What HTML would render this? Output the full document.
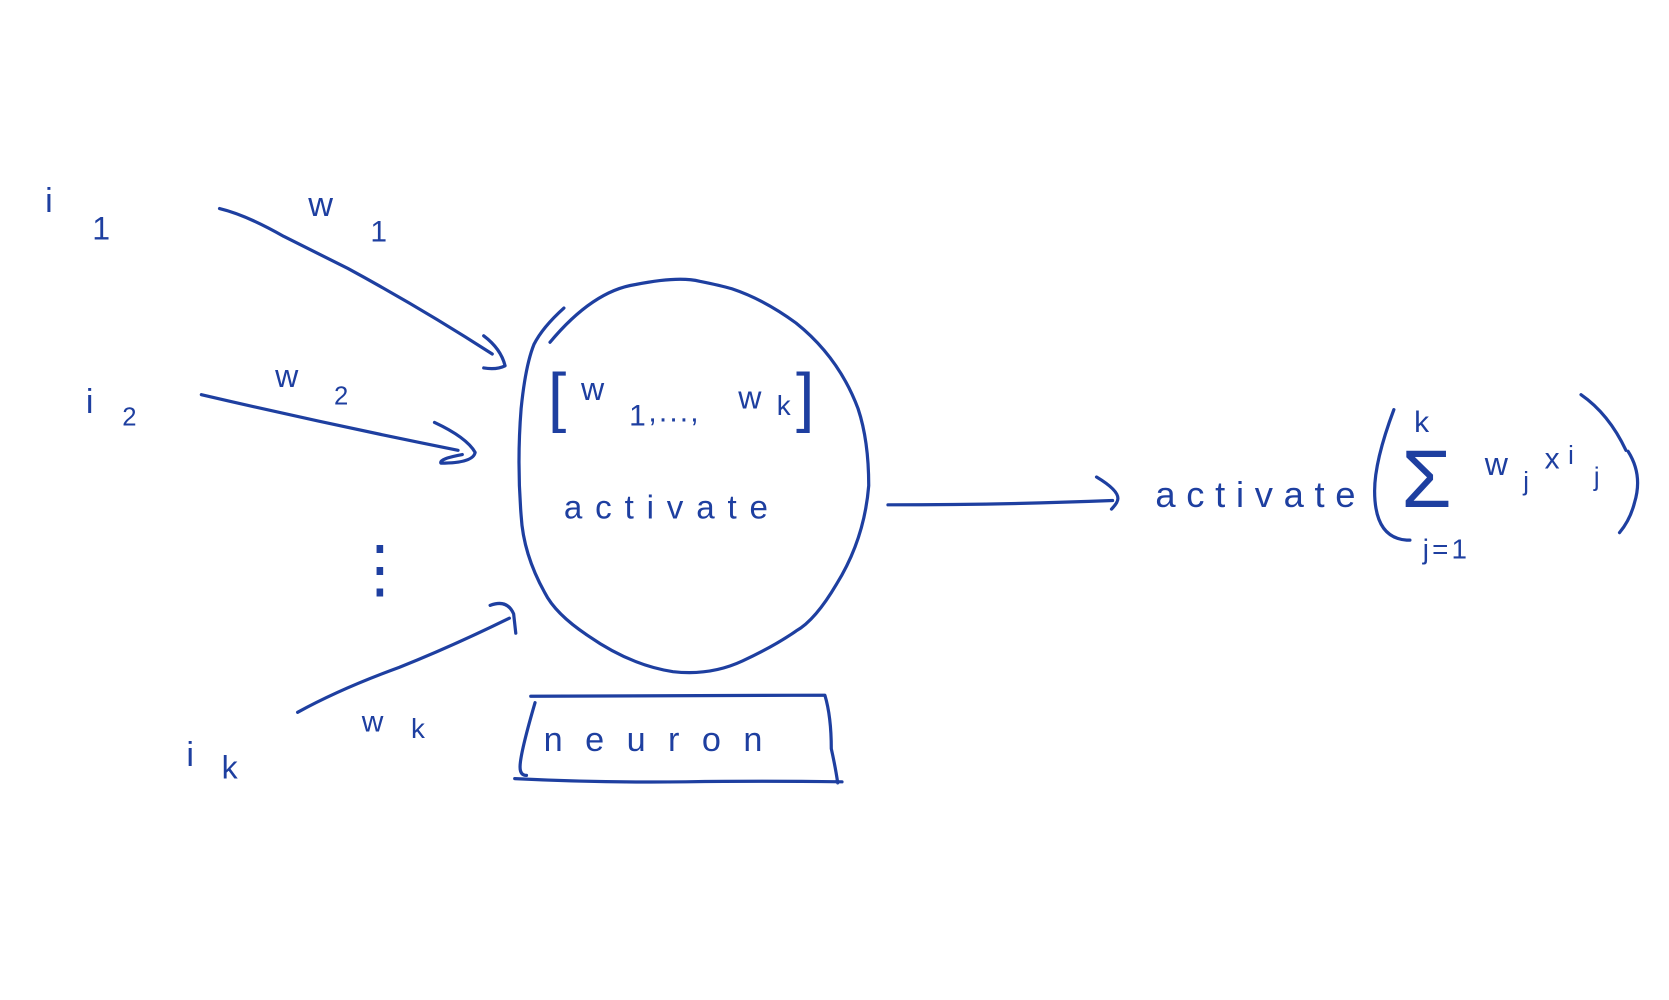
<!DOCTYPE html>
<html><head><meta charset="utf-8"><style>html,body{margin:0;padding:0;background:#fff}svg{display:block}
text{font-family:"Liberation Sans",sans-serif;fill:#1e3fa0}</style></head>
<body>
<svg width="1669" height="1000" viewBox="0 0 1560 935" xmlns="http://www.w3.org/2000/svg">
<g fill="none" stroke="#1e3fa0" stroke-width="3" stroke-linecap="round" stroke-linejoin="round">
<path d="M205 195 q25 6 60 26 q30 15 60 30 q70 38 135 80 M452 314 q16 12 20 28 q-8 4 -20 2"/>
<path d="M188 369 q120 28 240 52 M406 395 q30 14 38 28 q-2 10 -32 10 q-2 -4 20 -8"/>
<path d="M278 666 q40 -22 95 -42 q50 -20 103 -46 M458 566 q16 -6 22 8 l2 18"/>
<path d="M514 320 q40 -48 80 -54 q40 -8 60 -3 q20 4 30 7 q30 10 60 32 q40 32 58 80 q10 30 10 72 q-4 50 -30 92 q-20 34 -38 44 q-20 14 -50 28 q-30 14 -65 10 q-40 -6 -80 -34 q-30 -20 -40 -40 q-20 -36 -22 -72 q-4 -50 0 -100 q4 -40 12 -60 q8 -16 28 -34"/>
<path d="M496 651 l275 -1 q6 20 6 50 q4 18 6 32 M500 657 q-14 48 -14 60 q0 8 6 8 M481 728 q80 4 160 3 q70 -1 146 0"/>
<path d="M830 472 q110 0 210 -4 M1025 446 q20 12 20 20 q0 4 -6 10"/>
<path d="M1303 383 q-18 48 -18 76 q0 44 30 46 l3 0"/>
<path d="M1478 369 q26 18 42 52 M1522 422 q14 22 6 48 q-4 16 -14 28"/>
</g>
<text x="42" y="198" font-size="32">i</text><text x="86" y="224" font-size="30">1</text>
<text x="288" y="202" font-size="32">w</text><text x="346" y="226" font-size="28">1</text>
<text x="80" y="386" font-size="32">i</text><text x="114" y="398" font-size="24">2</text>
<text x="257" y="362" font-size="30">w</text><text x="312" y="378" font-size="24">2</text>
<text x="325" y="552" font-size="60">⋮</text>
<text x="174" y="716" font-size="32">i</text><text x="207" y="728" font-size="30">k</text>
<text x="338" y="684" font-size="28">w</text><text x="384" y="690" font-size="26">k</text>
<text x="512" y="392" font-size="62">[</text>
<text x="543" y="374" font-size="30">w</text>
<text x="588" y="398" font-size="28">1</text>
<text x="606" y="394" font-size="28" letter-spacing="2">,...,</text>
<text x="690" y="382" font-size="30">w</text>
<text x="726" y="388" font-size="26">k</text>
<text x="744" y="392" font-size="62">]</text>
<text x="527" y="485" font-size="31" letter-spacing="12">activate</text>
<text x="508" y="702" font-size="32" letter-spacing="21">neuron</text>
<text x="1080" y="474" font-size="34" letter-spacing="10">activate</text>
<text x="1322" y="404" font-size="28">k</text>
<text x="1310" y="474" font-size="76">Σ</text>
<text x="1330" y="522" font-size="26" letter-spacing="3">j=1</text>
<text x="1388" y="444" font-size="30">w</text><text x="1424" y="458" font-size="24">j</text>
<text x="1444" y="438" font-size="28">x</text><text x="1466" y="434" font-size="24">i</text><text x="1490" y="454" font-size="24">j</text>
</svg>
</body></html>
